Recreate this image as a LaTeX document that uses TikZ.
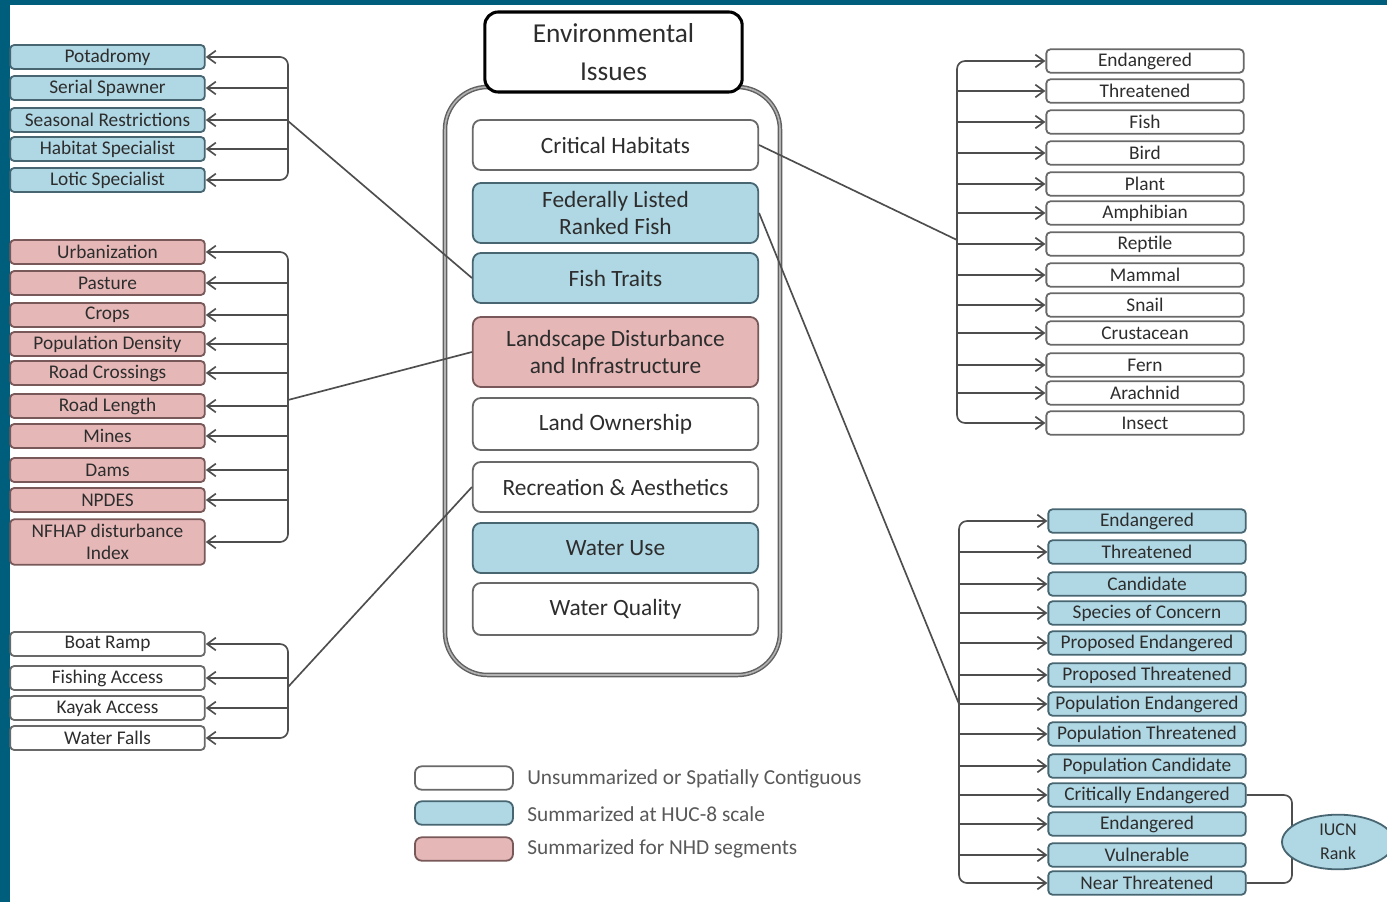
\documentclass[tikz,border=0pt]{standalone}
\usepackage{fontspec}
\setmainfont{Carlito}
\usepackage{tikz}
\usepackage{xcolor}
\usetikzlibrary{arrows.meta,shapes.geometric}

\definecolor{edgeteal}{RGB}{0,94,125}
\definecolor{hucblue}{RGB}{176,215,228}
\definecolor{hucline}{RGB}{72,102,114}
\definecolor{nhdpink}{RGB}{229,184,183}
\definecolor{nhdline}{RGB}{120,88,88}
\definecolor{boxline}{RGB}{105,105,105}
\definecolor{wiregray}{RGB}{78,78,78}
\definecolor{ink}{RGB}{45,45,45}

\tikzset{
  item/.style={rectangle, rounded corners=3pt, line width=1.35pt, inner sep=0pt, text=ink, align=center, font=\fontsize{14.5}{17}\selectfont},
  sidebox/.style={item, minimum width=146pt, minimum height=18pt},
  rightbox/.style={item, minimum width=148pt, minimum height=17.5pt},
  issue/.style={item, rounded corners=6pt, minimum width=214pt, minimum height=37.5pt, font=\fontsize{17.5}{20.5}\selectfont},
  legbox/.style={item, rounded corners=5pt, minimum width=73.5pt, minimum height=17.5pt},
  legtext/.style={anchor=west, inner sep=0pt, text=black!65, font=\fontsize{16}{18}\selectfont},
  plainbox/.style={fill=white, draw=boxline},
  hucbox/.style={fill=hucblue, draw=hucline},
  nhdbox/.style={fill=nhdpink, draw=nhdline},
  wire/.style={draw=wiregray, line width=1.25pt},
  arr/.style={wire, rounded corners=6pt, -{Straight Barb[length=6.5pt,width=9.5pt]}},
}

\begin{document}
\begin{tikzpicture}[x=0.75pt,y=0.75pt,yscale=-1,xscale=1]
\useasboundingbox (0,0) rectangle (1387,902);
\fill[white] (0,0) rectangle (1387,902);
\fill[edgeteal] (0,0) rectangle (1387,5);
\fill[edgeteal] (0,0) rectangle (10,902);

%Shape: outer frame of the issues
\draw[draw=black!62, double=black!30, double distance=1.2pt, line width=1.1pt, rounded corners=32pt] (445,87) rectangle (780,675);
% Title
\node[item, draw=black, line width=2.3pt, fill=white, rounded corners=10pt, minimum width=193pt, minimum height=60pt, font=\fontsize{20.5}{28}\selectfont] (title) at (613.5,52) {Environmental\\Issues};

% Issue boxes
\node[issue, plainbox] (crit) at (615.5,145) {Critical Habitats};
\node[issue, hucbox, minimum height=45pt] (fed) at (615.5,213) {Federally Listed\\Ranked Fish};
\node[issue, hucbox] (trait) at (615.5,278) {Fish Traits};
\node[issue, nhdbox, minimum height=52.5pt] (land) at (615.5,352) {Landscape Disturbance\\and Infrastructure};
\node[issue, plainbox, minimum height=39pt] (own) at (615.5,424) {Land Ownership};
\node[issue, plainbox] (rec) at (615.5,487) {Recreation \& Aesthetics};
\node[issue, hucbox] (use) at (615.5,548) {Water Use};
\node[issue, plainbox, minimum height=39pt] (qual) at (615.5,609) {Water Quality};

% Fish trait boxes
\node[sidebox, hucbox] (potad) at (107.5,57) {Potadromy};
\node[sidebox, hucbox] (ser) at (107.5,88) {Serial Spawner};
\node[sidebox, hucbox] (sea) at (107.5,120) {Seasonal Restrictions};
\node[sidebox, hucbox] (hab) at (107.5,149) {Habitat Specialist};
\node[sidebox, hucbox] (lot) at (107.5,180) {Lotic Specialist};

% Landscape boxes
\node[sidebox, nhdbox] (urb) at (107.5,252) {Urbanization};
\node[sidebox, nhdbox] (pas) at (107.5,283) {Pasture};
\node[sidebox, nhdbox] (cro) at (107.5,315) {Crops};
\node[sidebox, nhdbox] (pop) at (107.5,344) {Population Density};
\node[sidebox, nhdbox] (rcr) at (107.5,373) {Road Crossings};
\node[sidebox, nhdbox] (rle) at (107.5,406) {Road Length};
\node[sidebox, nhdbox] (mine) at (107.5,436) {Mines};
\node[sidebox, nhdbox] (dam) at (107.5,470) {Dams};
\node[sidebox, nhdbox] (npd) at (107.5,500) {NPDES};
\node[sidebox, nhdbox, minimum height=34pt] (nfh) at (107.5,542) {NFHAP disturbance\\Index};

% Recreation boxes
\node[sidebox, plainbox] (boat) at (107.5,644) {Boat Ramp};
\node[sidebox, plainbox] (fishing) at (107.5,678) {Fishing Access};
\node[sidebox, plainbox] (kayak) at (107.5,708) {Kayak Access};
\node[sidebox, plainbox] (falls) at (107.5,738) {Water Falls};

% Critical habitat boxes
\node[rightbox, plainbox] (enda) at (1145,61) {Endangered};
\node[rightbox, plainbox] (thra) at (1145,91) {Threatened};
\node[rightbox, plainbox] (fish) at (1145,122) {Fish};
\node[rightbox, plainbox] (bird) at (1145,153) {Bird};
\node[rightbox, plainbox] (plant) at (1145,184) {Plant};
\node[rightbox, plainbox] (amph) at (1145,213) {Amphibian};
\node[rightbox, plainbox] (rept) at (1145,244) {Reptile};
\node[rightbox, plainbox] (mamm) at (1145,275) {Mammal};
\node[rightbox, plainbox] (snail) at (1145,305) {Snail};
\node[rightbox, plainbox] (crus) at (1145,333) {Crustacean};
\node[rightbox, plainbox] (fern) at (1145,365) {Fern};
\node[rightbox, plainbox] (arach) at (1145,393) {Arachnid};
\node[rightbox, plainbox] (insect) at (1145,423) {Insect};

% Federal listing boxes
\node[rightbox, hucbox] (endb) at (1147,521) {Endangered};
\node[rightbox, hucbox] (thrb) at (1147,552) {Threatened};
\node[rightbox, hucbox] (cand) at (1147,584) {Candidate};
\node[rightbox, hucbox] (conc) at (1147,613) {Species of Concern};
\node[rightbox, hucbox] (proe) at (1147,643) {Proposed Endangered};
\node[rightbox, hucbox] (prot) at (1147,675) {Proposed Threatened};
\node[rightbox, hucbox] (pope) at (1147,704) {Population Endangered};
\node[rightbox, hucbox] (popt) at (1147,734) {Population Threatened};
\node[rightbox, hucbox] (popc) at (1147,766) {Population Candidate};
\node[rightbox, hucbox] (crend) at (1147,795) {Critically Endangered};
\node[rightbox, hucbox] (endc) at (1147,824) {Endangered};
\node[rightbox, hucbox] (vuln) at (1147,855) {Vulnerable};
\node[rightbox, hucbox] (near) at (1147,883) {Near Threatened};

% Bracket points
\coordinate (fishbus) at (288,121);
\coordinate (landbus) at (288,400);
\coordinate (recbus) at (288,687);
\coordinate (critbus) at (957,240);
\coordinate (fedbus) at (959,704);
\coordinate (iucnbus) at (1292,840);

% Fish trait arrows
\draw[arr] (fishbus) |- (potad.east);
\draw[arr] (fishbus |- ser.east) -- (ser.east);
\draw[arr] (fishbus |- sea.east) -- (sea.east);
\draw[arr] (fishbus |- hab.east) -- (hab.east);
\draw[arr] (fishbus) |- (lot.east);
\draw[wire] (fishbus) -- (trait.west);

% Landscape arrows
\draw[arr] (landbus) |- (urb.east);
\draw[arr] (landbus |- pas.east) -- (pas.east);
\draw[arr] (landbus |- cro.east) -- (cro.east);
\draw[arr] (landbus |- pop.east) -- (pop.east);
\draw[arr] (landbus |- rcr.east) -- (rcr.east);
\draw[arr] (landbus |- rle.east) -- (rle.east);
\draw[arr] (landbus |- mine.east) -- (mine.east);
\draw[arr] (landbus |- dam.east) -- (dam.east);
\draw[arr] (landbus |- npd.east) -- (npd.east);
\draw[arr] (landbus) |- (nfh.east);
\draw[wire] (landbus) -- (land.west);

% Recreation arrows
\draw[arr] (recbus) |- (boat.east);
\draw[arr] (recbus |- fishing.east) -- (fishing.east);
\draw[arr] (recbus |- kayak.east) -- (kayak.east);
\draw[arr] (recbus) |- (falls.east);
\draw[wire] (recbus) -- (rec.west);

% Critical habitat arrows
\draw[arr] (critbus) |- (enda.west);
\draw[arr] (critbus |- thra.west) -- (thra.west);
\draw[arr] (critbus |- fish.west) -- (fish.west);
\draw[arr] (critbus |- bird.west) -- (bird.west);
\draw[arr] (critbus |- plant.west) -- (plant.west);
\draw[arr] (critbus |- amph.west) -- (amph.west);
\draw[arr] (critbus |- rept.west) -- (rept.west);
\draw[arr] (critbus |- mamm.west) -- (mamm.west);
\draw[arr] (critbus |- snail.west) -- (snail.west);
\draw[arr] (critbus |- crus.west) -- (crus.west);
\draw[arr] (critbus |- fern.west) -- (fern.west);
\draw[arr] (critbus |- arach.west) -- (arach.west);
\draw[arr] (critbus) |- (insect.west);
\draw[wire] (crit.east) -- (critbus);

% Federal listing arrows
\draw[arr] (fedbus) |- (endb.west);
\draw[arr] (fedbus |- thrb.west) -- (thrb.west);
\draw[arr] (fedbus |- cand.west) -- (cand.west);
\draw[arr] (fedbus |- conc.west) -- (conc.west);
\draw[arr] (fedbus |- proe.west) -- (proe.west);
\draw[arr] (fedbus |- prot.west) -- (prot.west);
\draw[arr] (fedbus |- pope.west) -- (pope.west);
\draw[arr] (fedbus |- popt.west) -- (popt.west);
\draw[arr] (fedbus |- popc.west) -- (popc.west);
\draw[arr] (fedbus |- crend.west) -- (crend.west);
\draw[arr] (fedbus |- endc.west) -- (endc.west);
\draw[arr] (fedbus |- vuln.west) -- (vuln.west);
\draw[arr] (fedbus) |- (near.west);
\draw[wire] (fed.east) -- (fedbus);

% IUCN bracket
\draw[wire, rounded corners=6pt] (crend.east) -| (iucnbus) |- (near.east);
\node[ellipse, fill=hucblue, draw=hucline, line width=1.35pt, minimum width=84pt, minimum height=41pt, inner sep=0pt, align=center, text=ink, font=\fontsize{13.5}{18}\selectfont] (iucn) at (1338,842) {IUCN\\Rank};

% Legend
\node[legbox, plainbox] (lwhite) at (464,778) {};
\node[legbox, hucbox] (lblue) at (464,813) {};
\node[legbox, nhdbox] (lpink) at (464,849) {};
\node[legtext] (twhite) at (527,779) {Unsummarized or Spatially Contiguous};
\node[legtext] (tblue) at (527,814) {Summarized at HUC-8 scale};
\node[legtext] (tpink) at (527,849) {Summarized for NHD segments};

\end{tikzpicture}
\end{document}
